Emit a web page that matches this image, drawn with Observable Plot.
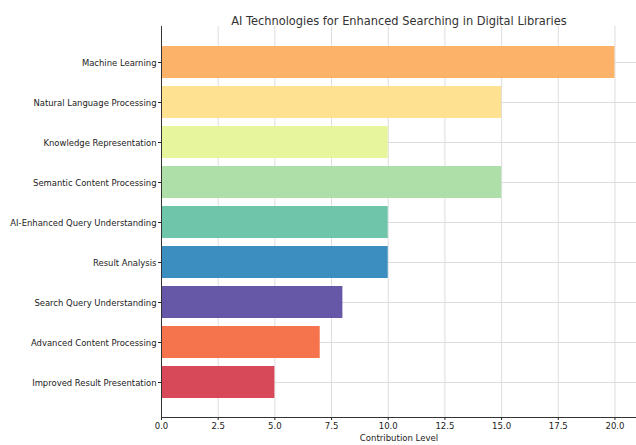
<!DOCTYPE html>
<html>
<head>
<meta charset="utf-8">
<script src="https://cdn.jsdelivr.net/npm/d3@7"></script>
<script src="https://cdn.jsdelivr.net/npm/@observablehq/plot@0.6"></script>
<style>
  html, body { margin: 0; padding: 0; background: #fff; }
  svg { font-family: "DejaVu Sans Condensed", "DejaVu Sans", sans-serif; }
</style>
</head>
<body>
<div id="chart"></div>
<script>
const title = "AI Technologies for Enhanced Searching in Digital Libraries";
const xLabel = "Contribution Level";
const categories = [
  "Machine Learning",
  "Natural Language Processing",
  "Knowledge Representation",
  "Semantic Content Processing",
  "AI-Enhanced Query Understanding",
  "Result Analysis",
  "Search Query Understanding",
  "Advanced Content Processing",
  "Improved Result Presentation"
];
const values = [20, 15, 10, 15, 10, 10, 8, 7, 5];
const colors = ["#fdae61", "#fee08b", "#e6f598", "#abdda4", "#66c2a5", "#3288bd", "#5e4fa2", "#f46d43", "#d53e4f"];
const xTicks = [0, 2.5, 5, 7.5, 10, 12.5, 15, 17.5, 20];

const data = categories.map((c, i) => ({category: c, value: values[i], color: colors[i]}));

const chart = Plot.plot({
  width: 636,
  height: 445,
  marginLeft: 161,
  marginRight: 0,
  marginTop: 26,
  marginBottom: 28,
  style: {fontSize: "9.5px", color: "#222", background: "#fff"},
  x: {domain: [0, 20.95], label: null},
  y: {domain: categories, paddingInner: 0.2, paddingOuter: 0.427, label: null},
  marks: [
    Plot.gridX(xTicks, {stroke: "#ddd", strokeOpacity: 1}),
    Plot.gridY(categories, {stroke: "#ddd", strokeOpacity: 1}),
    Plot.barX(data, {x: "value", y: "category", fill: "color", fillOpacity: 0.95}),
    Plot.axisX(xTicks, {tickSize: 3, tickFormat: d => d.toFixed(1), fontSize: 9.5, label: null, tickPadding: 2}),
    Plot.axisY(categories, {tickSize: 3, fontSize: 9.4, label: null, tickPadding: 2}),
    Plot.frame({anchor: "left", stroke: "#333"}),
    Plot.frame({anchor: "bottom", stroke: "#333"}),
    Plot.text([xLabel], {frameAnchor: "bottom", dy: 23, fontSize: 9.5, fill: "#222"}),
    Plot.text([title], {frameAnchor: "top", dy: -11, fontSize: 12.7, fill: "#333"})
  ]
});
document.getElementById("chart").append(chart);
</script>
</body>
</html>
